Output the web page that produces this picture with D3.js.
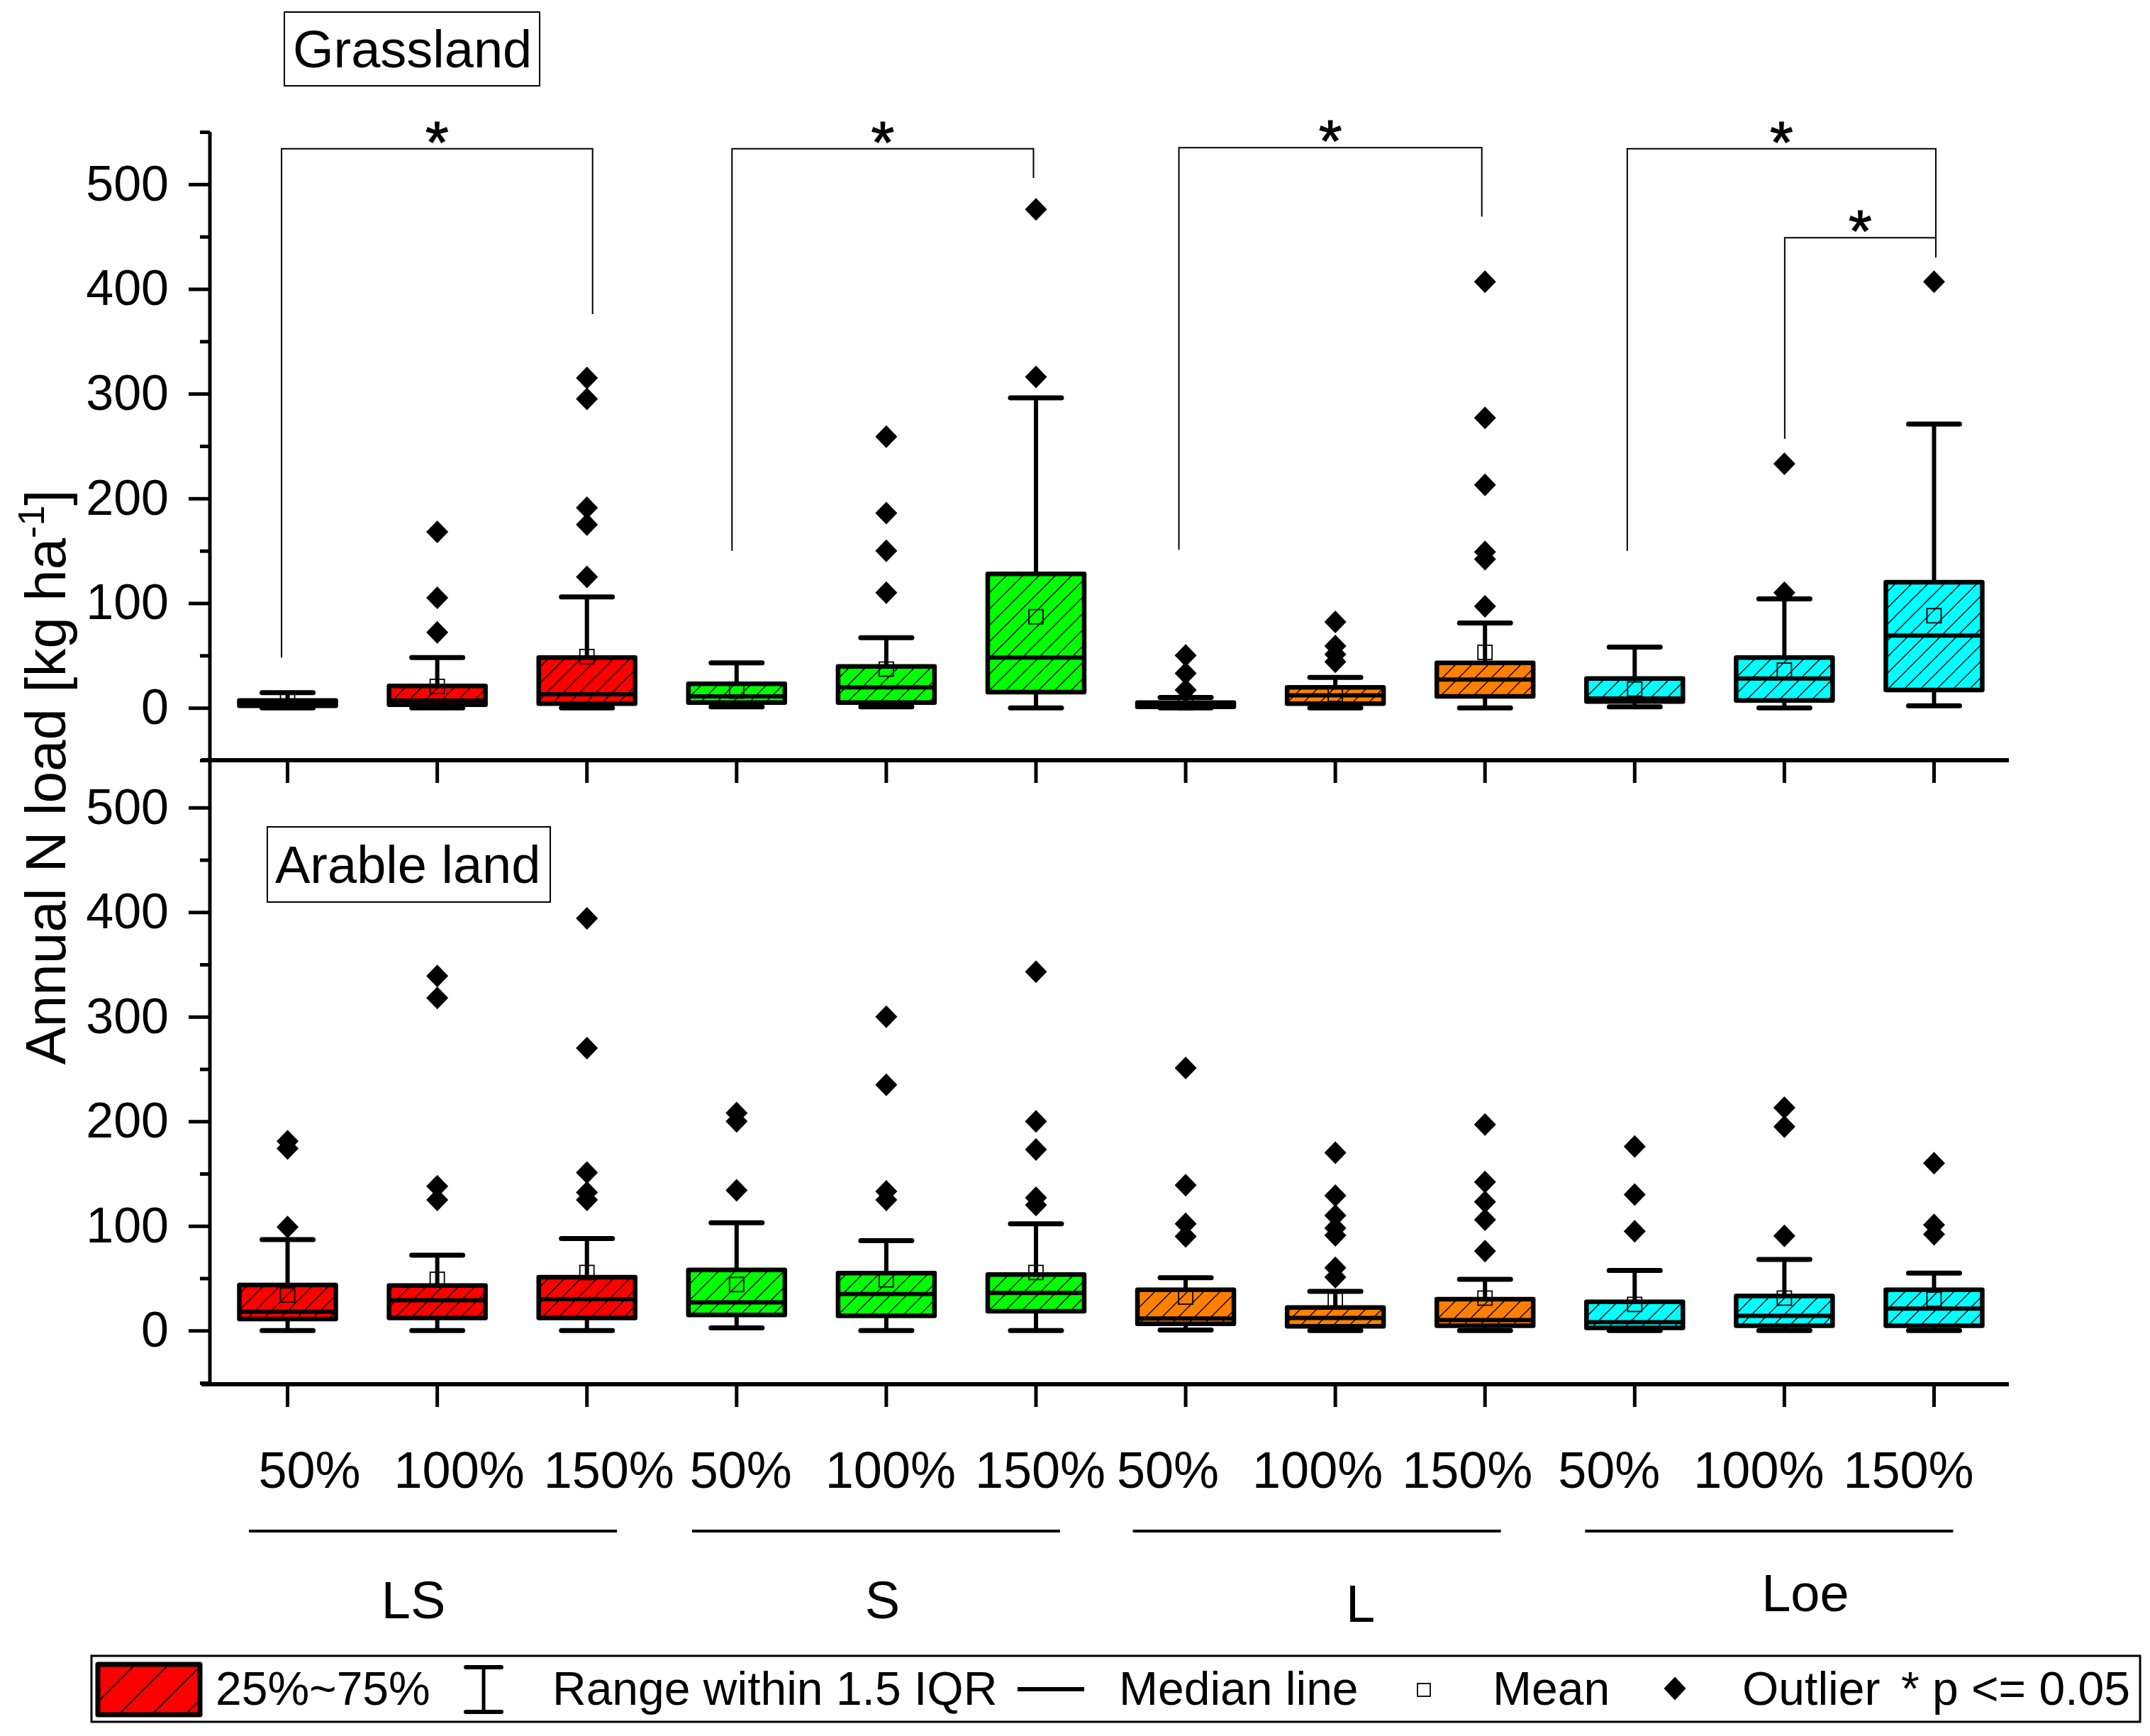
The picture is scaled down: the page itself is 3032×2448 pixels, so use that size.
<!DOCTYPE html>
<html><head><meta charset="utf-8">
<script src="https://cdn.jsdelivr.net/npm/d3@7"></script>
<style>
body{margin:0;background:#fff}
svg{display:block}
text{font-family:"Liberation Sans",Arial,sans-serif;fill:#000}
</style>
</head><body>
<svg id="c" width="3032" height="2448"></svg>
<script>
// ---------------- data ----------------
const soils = ["LS", "S", "L", "Loe"];
const levels = ["50%", "100%", "150%"];
const soilColors = ["#FF0000", "#00FF00", "#FF8000", "#00FFFF"];
const yTickValues = [0, 100, 200, 300, 400, 500];

// Grassland (upper panel), order: LS 50/100/150, S ..., L ..., Loe ...
const grassQ1     = [2, 3, 4, 5, 5, 15, 1, 4, 11, 6, 7, 17];
const grassMedian = [4, 7, 13, 11, 19.5, 48, 2.5, 12, 27, 9, 28, 69];
const grassQ3     = [7, 21, 48, 23, 39.5, 128, 5, 19.5, 43, 28, 48, 120];
const grassLow    = [0, 0, 0, 1, 1, 0, 0, 0, 0, 1, 0, 2];
const grassHigh   = [14.5, 48, 106, 43, 67, 296, 10, 29, 81, 58, 104, 271];
const grassMean   = [7, 20.5, 49, 16, 37, 87, 5, 13, 53, 18, 36, 88];
const grassOutliers = [
  [], [168, 105, 72], [315, 295, 191, 175, 125],
  [], [259, 186, 150, 110], [476, 316],
  [50, 33, 17], [82, 59, 51, 44], [407, 277, 213, 149, 142, 97],
  [], [233, 110], [407]
];

// Arable land (lower panel)
const arableQ1     = [11, 12, 12, 15, 14, 18.5, 6.5, 4, 4.5, 2.5, 4.5, 4.5];
const arableMedian = [18, 29, 30, 27, 35, 36, 11.5, 12, 10, 8, 14, 21];
const arableQ3     = [43.5, 43, 51, 58, 55, 53.5, 39, 22, 30, 27.5, 33, 39];
const arableLow    = [0, 0, 0, 2.5, 0, 0, 0.5, 0, 0, 0, 0, 0];
const arableHigh   = [87, 72, 88, 103, 86, 102, 50.5, 37.5, 49, 57.5, 68, 55];
const arableMean   = [34, 49, 55.5, 44, 48.5, 55.5, 32, 29, 31, 25, 31, 30];
const arableOutliers = [
  [181, 174, 99], [339, 318, 138, 125], [394, 270, 151, 132, 125],
  [208, 200, 134], [300, 235, 133, 125], [343, 200, 173, 127, 120],
  [251, 139, 102, 90], [170, 129, 110, 98, 91, 60, 51], [197, 142, 123, 106, 76],
  [176, 130, 95], [213, 195, 90.5], [160, 101, 92]
];

// significance brackets (upper panel): [from, to], top value, leg end values
const sigPairs    = [[0, 2], [3, 5], [6, 8], [9, 11], [10, 11]];
const sigTop      = [534, 534, 535, 534, 449];
const sigLeftEnd  = [48, 150, 151, 150, 257];
const sigRightEnd = [376, 506, 469, 430, 449];
const sigLabel    = "*";

const legendLabels = ["25%~75%", "Range within 1.5 IQR", "Median line", "Mean", "Outlier", "* p <= 0.05"];

// ---------------- layout ----------------
const svg = d3.select("#c");
const categories = soils.flatMap(s => levels.map(l => s + " " + l));
const x = d3.scaleBand().domain(categories).range([300, 2833]).paddingInner(0).paddingOuter(0);
const cx = i => x(categories[i]) + x.bandwidth() / 2;
const yTop = d3.scaleLinear().domain([-50, 550]).range([1072, 186]);
const yBot = d3.scaleLinear().domain([-50, 550]).range([1950, 1065]);
const axisX = 296, axisRight = 2833;

const defs = svg.append("defs");
function hatch(id, s, w) {
  const p = defs.append("pattern").attr("id", id)
    .attr("patternUnits", "userSpaceOnUse").attr("width", s).attr("height", s);
  p.append("path")
    .attr("d", `M0,${s} L${s},0 M${-s/2},${s/2} L${s/2},${-s/2} M${s/2},${s*1.5} L${s*1.5},${s/2}`)
    .attr("stroke", "#000").attr("stroke-width", w).attr("fill", "none");
}
hatch("hatch", 23, 1.4);
hatch("hatchLeg", 47, 1.6);

const diamond = (w, h) => `M0,${-h/2} L${w/2},0 L0,${h/2} L${-w/2},0 Z`;

function drawPanel(y, q1, med, q3, lo, hi, mean, outl) {
  const g = svg.append("g");
  const idx = d3.range(categories.length);
  const bw = 136, cap = 72;
  const col = i => soilColors[Math.floor(i / levels.length)];
  // whiskers
  g.selectAll(".wu").data(idx).join("line")
    .attr("x1", cx).attr("x2", cx).attr("y1", i => y(q3[i])).attr("y2", i => y(hi[i]))
    .attr("stroke", "#000").attr("stroke-width", 6);
  g.selectAll(".wl").data(idx).join("line")
    .attr("x1", cx).attr("x2", cx).attr("y1", i => y(q1[i])).attr("y2", i => y(lo[i]))
    .attr("stroke", "#000").attr("stroke-width", 6);
  [hi, lo].forEach(arr => {
    g.append("g").selectAll("line").data(idx).join("line")
      .attr("x1", i => cx(i) - cap / 2).attr("x2", i => cx(i) + cap / 2)
      .attr("y1", i => y(arr[i])).attr("y2", i => y(arr[i]))
      .attr("stroke", "#000").attr("stroke-width", 7).attr("stroke-linecap", "round");
  });
  // boxes
  const boxes = g.append("g").selectAll("g").data(idx).join("g");
  boxes.append("rect")
    .attr("x", i => cx(i) - bw / 2).attr("width", bw)
    .attr("y", i => y(q3[i])).attr("height", i => y(q1[i]) - y(q3[i]))
    .attr("fill", col);
  boxes.append("rect")
    .attr("x", i => cx(i) - bw / 2).attr("width", bw)
    .attr("y", i => y(q3[i])).attr("height", i => y(q1[i]) - y(q3[i]))
    .attr("fill", "url(#hatch)");
  boxes.append("rect")
    .attr("x", i => cx(i) - bw / 2).attr("width", bw)
    .attr("y", i => y(q3[i])).attr("height", i => y(q1[i]) - y(q3[i]))
    .attr("fill", "none").attr("stroke", "#000").attr("stroke-width", 6.5)
    .attr("stroke-linejoin", "round");
  boxes.append("line")
    .attr("x1", i => cx(i) - bw / 2).attr("x2", i => cx(i) + bw / 2)
    .attr("y1", i => y(med[i])).attr("y2", i => y(med[i]))
    .attr("stroke", "#000").attr("stroke-width", 6);
  // means
  g.append("g").selectAll("rect").data(idx).join("rect")
    .attr("x", i => cx(i) - 10).attr("y", i => y(mean[i]) - 10)
    .attr("width", 20).attr("height", 20)
    .attr("fill", "none").attr("stroke", "#000").attr("stroke-width", 1.8);
  // outliers
  const pts = idx.flatMap(i => outl[i].map(v => ({ i, v })));
  g.append("g").selectAll("path").data(pts).join("path")
    .attr("d", diamond(31, 32))
    .attr("transform", d => `translate(${cx(d.i)},${y(d.v)})`)
    .attr("fill", "#000");
}

drawPanel(yTop, grassQ1, grassMedian, grassQ3, grassLow, grassHigh, grassMean, grassOutliers);
drawPanel(yBot, arableQ1, arableMedian, arableQ3, arableLow, arableHigh, arableMean, arableOutliers);

// ---------------- axes ----------------
function yAxis(y, minorVals) {
  const g = svg.append("g").attr("transform", `translate(${axisX},0)`);
  g.call(d3.axisLeft(y).tickValues(yTickValues).tickSize(30).tickPadding(28).tickFormat(d3.format("d")));
  g.select(".domain").remove();
  g.selectAll(".tick line").attr("stroke", "#000").attr("stroke-width", 5);
  g.selectAll(".tick text").attr("font-size", 70).attr("font-family", '"Liberation Sans",Arial,sans-serif');
  const m = svg.append("g").attr("transform", `translate(${axisX},0)`);
  m.call(d3.axisLeft(y).tickValues(minorVals).tickSize(14).tickFormat(""));
  m.select(".domain").remove();
  m.selectAll(".tick line").attr("stroke", "#000").attr("stroke-width", 5);
}
yAxis(yTop, d3.range(-50, 551, 100));
yAxis(yBot, d3.range(-50, 501, 100));

svg.append("line").attr("x1", axisX).attr("x2", axisX).attr("y1", yTop(550)).attr("y2", 1954)
  .attr("stroke", "#000").attr("stroke-width", 5);

[1072, 1952].forEach(yy => {
  const g = svg.append("g").attr("transform", `translate(0,${yy})`);
  g.call(d3.axisBottom(x).tickSize(32).tickFormat(""));
  g.select(".domain").remove();
  g.selectAll(".tick line").attr("stroke", "#000").attr("stroke-width", 5);
  svg.append("line").attr("x1", 284).attr("x2", axisRight).attr("y1", yy).attr("y2", yy)
    .attr("stroke", "#000").attr("stroke-width", 6);
});

// category labels
const groupLabelShift = [31, 6, -25, -36];
svg.append("g").selectAll("text").data(categories).join("text")
  .attr("x", (d, i) => cx(i) + groupLabelShift[Math.floor(i / levels.length)])
  .attr("y", 2098).attr("text-anchor", "middle").attr("font-size", 72)
  .text((d, i) => levels[i % levels.length]);

const groupLineShift = [-6, -14.5, -26, -21.5];
const groupNameShift = [-33.5, -5.5, 35.5, 29.5];
const groupNameBase = [2282, 2282, 2287, 2272];
soils.forEach((s, k) => {
  const gc = cx(k * levels.length + 1);
  svg.append("line").attr("x1", gc + groupLineShift[k] - 259.5).attr("x2", gc + groupLineShift[k] + 259.5)
    .attr("y1", 2159).attr("y2", 2159).attr("stroke", "#000").attr("stroke-width", 4);
  svg.append("text").attr("x", gc + groupNameShift[k]).attr("y", groupNameBase[k])
    .attr("text-anchor", "middle").attr("font-size", 74).text(s);
});

// axis title
const title = svg.append("text").attr("transform", "translate(92,1096) rotate(-90)")
  .attr("text-anchor", "middle").attr("font-size", 80);
title.append("tspan").text("Annual N load [kg ha");
title.append("tspan").attr("font-size", 52).attr("dy", -30).text("-1");
title.append("tspan").attr("dy", 30).text("]");

// panel labels
function panelLabel(x0, y0, w, h, tx, base, txt) {
  svg.append("rect").attr("x", x0).attr("y", y0).attr("width", w).attr("height", h)
    .attr("fill", "#fff").attr("stroke", "#000").attr("stroke-width", 2);
  svg.append("text").attr("x", tx).attr("y", base).attr("font-size", 74).text(txt);
}
panelLabel(401, 17, 360, 104, 413, 95, "Grassland");
panelLabel(377, 1166, 399, 106, 388, 1245, "Arable land");

// significance brackets
const sigLeftShift = [-8.5, -6.5, -9.5, -10.5, 0.5];
const sigRightShift = [8, -3.5, -4.5, 2.5, 2.5];
const sig = svg.append("g");
sigPairs.forEach((p, k) => {
  const xl = cx(p[0]) + sigLeftShift[k], xr = cx(p[1]) + sigRightShift[k];
  sig.append("path")
    .attr("d", `M${xl},${yTop(sigLeftEnd[k])} V${yTop(sigTop[k])} H${xr} V${yTop(sigRightEnd[k])}`)
    .attr("fill", "none").attr("stroke", "#000").attr("stroke-width", 2);
  sig.append("text").attr("x", (xl + xr) / 2).attr("y", yTop(sigTop[k] + 19) + 48)
    .attr("text-anchor", "middle").attr("font-size", 84)
    .attr("stroke", "#000").attr("stroke-width", 1.2).text(sigLabel);
});

// legend
const lg = svg.append("g");
lg.append("rect").attr("x", 129).attr("y", 2335).attr("width", 2889).attr("height", 93)
  .attr("fill", "#fff").attr("stroke", "#000").attr("stroke-width", 3);
lg.append("rect").attr("x", 138).attr("y", 2347).attr("width", 144).attr("height", 71).attr("fill", soilColors[0]);
lg.append("rect").attr("x", 138).attr("y", 2347).attr("width", 144).attr("height", 71).attr("fill", "url(#hatchLeg)");
lg.append("rect").attr("x", 138).attr("y", 2347).attr("width", 144).attr("height", 71)
  .attr("fill", "none").attr("stroke", "#000").attr("stroke-width", 7).attr("stroke-linejoin", "round");
lg.append("line").attr("x1", 682).attr("x2", 682).attr("y1", 2351).attr("y2", 2414).attr("stroke", "#000").attr("stroke-width", 5);
[2351, 2414].forEach(yy => lg.append("line").attr("x1", 657).attr("x2", 707).attr("y1", yy).attr("y2", yy)
  .attr("stroke", "#000").attr("stroke-width", 6).attr("stroke-linecap", "round"));
lg.append("line").attr("x1", 1435).attr("x2", 1529).attr("y1", 2382).attr("y2", 2382).attr("stroke", "#000").attr("stroke-width", 6);
lg.append("rect").attr("x", 1999).attr("y", 2374).attr("width", 18).attr("height", 18)
  .attr("fill", "none").attr("stroke", "#000").attr("stroke-width", 1.8);
lg.append("path").attr("d", diamond(31, 33)).attr("transform", "translate(2362,2381)").attr("fill", "#000");
const legX = [304, 779, 1578, 2105, 2457, 2681];
lg.selectAll("text.l").data(legendLabels).join("text")
  .attr("x", (d, i) => legX[i]).attr("y", 2404).attr("font-size", 66).text(d => d);
</script>
</body></html>
